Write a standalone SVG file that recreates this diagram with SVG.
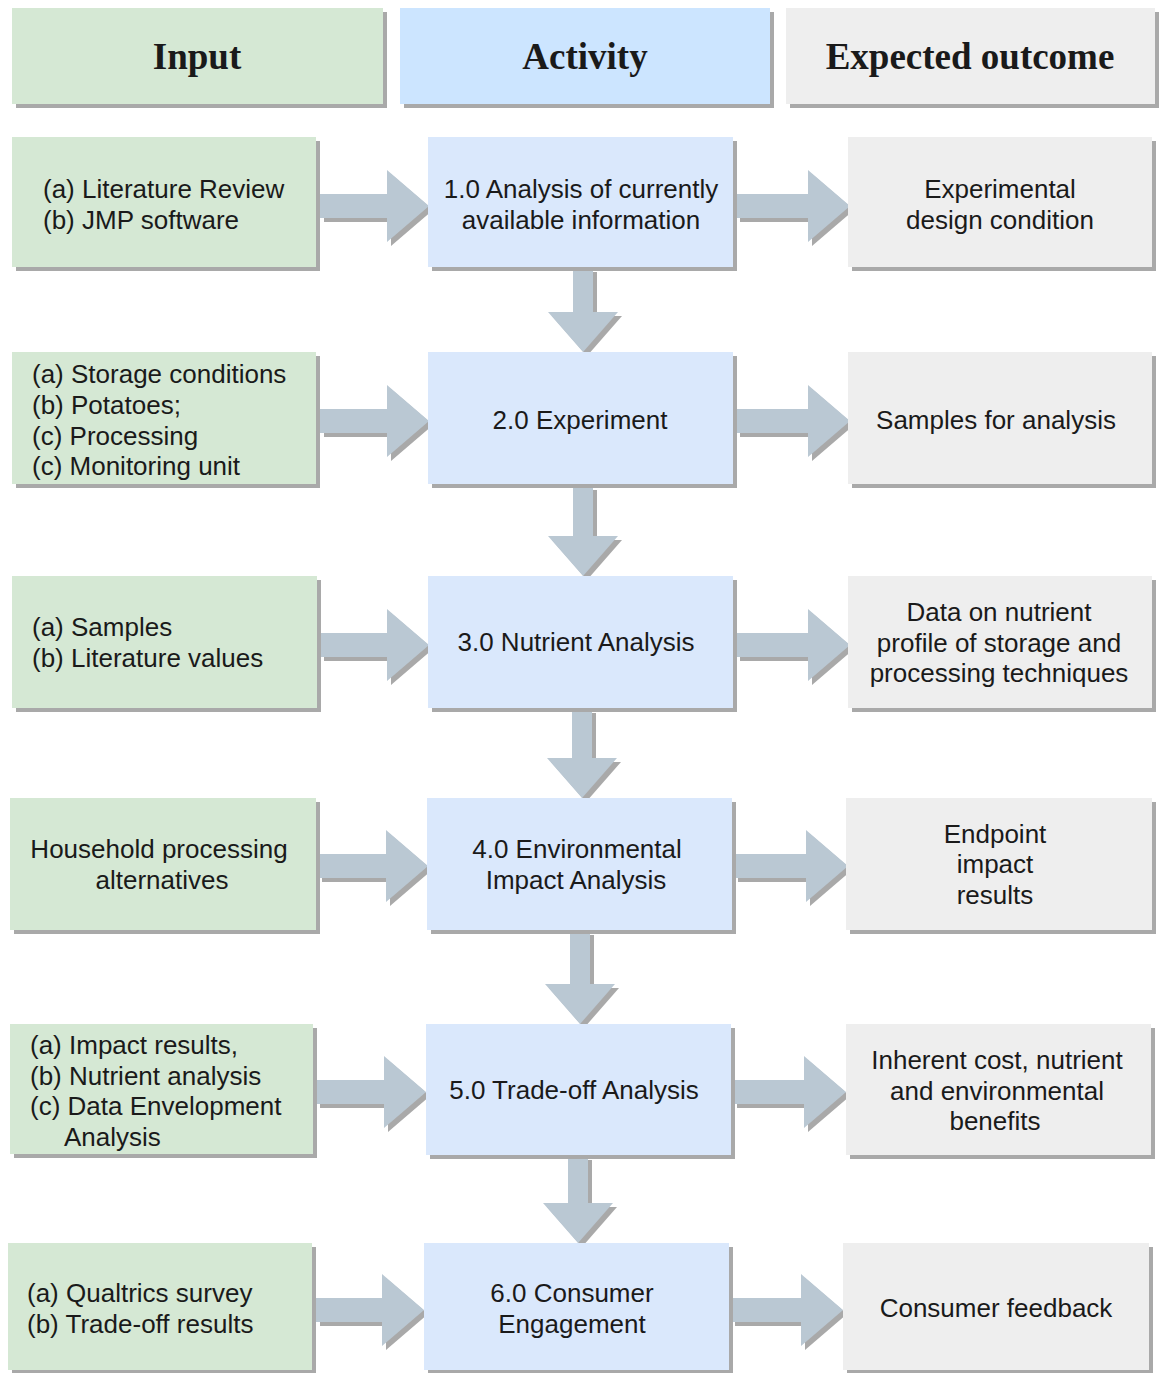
<svg xmlns="http://www.w3.org/2000/svg" width="1159" height="1373" viewBox="0 0 1159 1373">
<defs>
<filter id="sh" x="-10%" y="-10%" width="130%" height="130%">
<feFlood flood-color="#a9a9a9" result="c"/>
<feComposite in="c" in2="SourceAlpha" operator="in" result="s"/>
<feOffset in="s" dx="4" dy="4" result="o"/>
<feGaussianBlur in="o" stdDeviation="0.7" result="b"/>
<feMerge><feMergeNode in="b"/><feMergeNode in="SourceGraphic"/></feMerge>
</filter>
<style>
.inp{fill:#d5e8d4;filter:url(#sh)}
.act{fill:#dae8fc;filter:url(#sh)}
.out{fill:#eeeeee;filter:url(#sh)}
.hact{fill:#cce5ff;filter:url(#sh)}
.arr{fill:#bac8d3;filter:url(#sh)}
text{font-family:"Liberation Sans",Arial,sans-serif;font-size:26px;fill:#1a1a1a}
.h{font-family:"Liberation Serif","Times New Roman",serif;font-weight:bold;font-size:37px;text-anchor:middle}
.c{text-anchor:middle}
</style>
</defs>
<g id="header-input"><rect class="inp" x="12" y="8" width="371" height="96"/><text class="h" x="197" y="69">Input</text></g>
<g id="header-activity"><rect class="hact" x="400" y="8" width="370" height="96"/><text class="h" x="585" y="69">Activity</text></g>
<g id="header-outcome"><rect class="out" x="786" y="8" width="369" height="96"/><text class="h" x="970" y="69">Expected outcome</text></g>

<g id="connectors">
<polygon class="arr" points="320,194 387,194 387,170 429,206 387,242 387,218 320,218"/>
<polygon class="arr" points="736,194 808,194 808,170 850,206 808,242 808,218 736,218"/>
<polygon class="arr" points="320,409 387,409 387,385 429,421 387,457 387,433 320,433"/>
<polygon class="arr" points="736,409 808,409 808,385 850,421 808,457 808,433 736,433"/>
<polygon class="arr" points="320,633 387,633 387,609 429,645 387,681 387,657 320,657"/>
<polygon class="arr" points="736,633 808,633 808,609 850,645 808,681 808,657 736,657"/>
<polygon class="arr" points="318,854 386,854 386,830 428,866 386,902 386,878 318,878"/>
<polygon class="arr" points="734,854 806,854 806,830 848,866 806,902 806,878 734,878"/>
<polygon class="arr" points="316,1080 384,1080 384,1056 426,1092 384,1128 384,1104 316,1104"/>
<polygon class="arr" points="733,1080 804,1080 804,1056 846,1092 804,1128 804,1104 733,1104"/>
<polygon class="arr" points="316,1298 382,1298 382,1274 424,1310 382,1346 382,1322 316,1322"/>
<polygon class="arr" points="731,1298 801,1298 801,1274 843,1310 801,1346 801,1322 731,1322"/>
<polygon class="arr" points="573,268 593,268 593,312 618,312 583,352 548,312 573,312"/>
<polygon class="arr" points="573,486 593,486 593,536 618,536 583,576 548,536 573,536"/>
<polygon class="arr" points="572,709 592,709 592,758 617,758 582,798 547,758 572,758"/>
<polygon class="arr" points="570,931 590,931 590,984 615,984 580,1024 545,984 570,984"/>
<polygon class="arr" points="568,1156 588,1156 588,1203 613,1203 578,1243 543,1203 568,1203"/>
</g>

<g id="in1"><rect class="inp" x="12" y="137" width="304" height="130"/><text x="43" y="198">(a) Literature Review</text><text x="43" y="229">(b) JMP software</text></g>
<g id="act1"><rect class="act" x="428" y="137" width="305" height="130"/><text class="c" x="581" y="198">1.0 Analysis of currently</text><text class="c" x="581" y="229">available information</text></g>
<g id="out1"><rect class="out" x="848" y="137" width="304" height="130"/><text class="c" x="1000" y="198">Experimental</text><text class="c" x="1000" y="229">design condition</text></g>

<g id="in2"><rect class="inp" x="12" y="352" width="304" height="132"/><text x="32" y="383">(a) Storage conditions</text><text x="32" y="414">(b) Potatoes;</text><text x="32" y="445">(c) Processing</text><text x="32" y="475">(c) Monitoring unit</text></g>
<g id="act2"><rect class="act" x="428" y="352" width="305" height="132"/><text class="c" x="580" y="429">2.0 Experiment</text></g>
<g id="out2"><rect class="out" x="848" y="352" width="304" height="132"/><text class="c" x="996" y="429">Samples for analysis</text></g>

<g id="in3"><rect class="inp" x="12" y="576" width="305" height="132"/><text x="32" y="636">(a) Samples</text><text x="32" y="667">(b) Literature values</text></g>
<g id="act3"><rect class="act" x="428" y="576" width="305" height="132"/><text class="c" x="576" y="651">3.0 Nutrient Analysis</text></g>
<g id="out3"><rect class="out" x="848" y="576" width="304" height="132"/><text class="c" x="999" y="621">Data on nutrient</text><text class="c" x="999" y="652">profile of storage and</text><text class="c" x="999" y="682">processing techniques</text></g>

<g id="in4"><rect class="inp" x="10" y="798" width="306" height="132"/><text class="c" x="159" y="858">Household processing</text><text class="c" x="162" y="889">alternatives</text></g>
<g id="act4"><rect class="act" x="427" y="798" width="305" height="132"/><text class="c" x="577" y="858">4.0 Environmental</text><text class="c" x="576" y="889">Impact Analysis</text></g>
<g id="out4"><rect class="out" x="846" y="798" width="306" height="132"/><text class="c" x="995" y="843">Endpoint</text><text class="c" x="995" y="873">impact</text><text class="c" x="995" y="904">results</text></g>

<g id="in5"><rect class="inp" x="10" y="1024" width="303" height="130"/><text x="30" y="1054">(a) Impact results,</text><text x="30" y="1085">(b) Nutrient analysis</text><text x="30" y="1115">(c) Data Envelopment</text><text x="64" y="1146">Analysis</text></g>
<g id="act5"><rect class="act" x="426" y="1024" width="305" height="131"/><text class="c" x="574" y="1099">5.0 Trade-off Analysis</text></g>
<g id="out5"><rect class="out" x="846" y="1024" width="305" height="131"/><text class="c" x="997" y="1069">Inherent cost, nutrient</text><text class="c" x="997" y="1100">and environmental</text><text class="c" x="995" y="1130">benefits</text></g>

<g id="in6"><rect class="inp" x="8" y="1243" width="304" height="127"/><text x="27" y="1302">(a) Qualtrics survey</text><text x="27" y="1333">(b) Trade-off results</text></g>
<g id="act6"><rect class="act" x="424" y="1243" width="305" height="127"/><text class="c" x="572" y="1302">6.0 Consumer</text><text class="c" x="572" y="1333">Engagement</text></g>
<g id="out6"><rect class="out" x="843" y="1243" width="306" height="127"/><text class="c" x="996" y="1317">Consumer feedback</text></g>
</svg>
